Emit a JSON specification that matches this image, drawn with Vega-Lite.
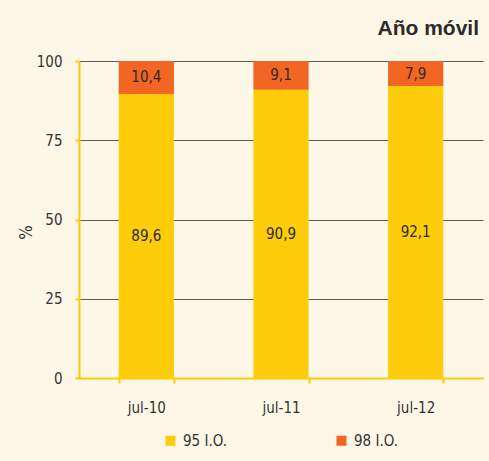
{
  "$schema": "https://vega.github.io/schema/vega-lite/v6.json",
  "width": 404,
  "height": 317,
  "autosize": {"type": "none"},
  "padding": {"left": 79, "top": 61, "right": 6, "bottom": 83},
  "background": "#FDF7E7",
  "title": {
    "text": "Año móvil",
    "anchor": "end",
    "font": "Liberation Sans",
    "fontWeight": "bold",
    "fontSize": 21,
    "color": "#2b2b2b",
    "offset": 15,
    "dx": -4
  },
  "data": {
    "values": [
      {"fecha": "jul-10", "tipo": "95 I.O.", "valor": 89.6},
      {"fecha": "jul-10", "tipo": "98 I.O.", "valor": 10.4},
      {"fecha": "jul-11", "tipo": "95 I.O.", "valor": 90.9},
      {"fecha": "jul-11", "tipo": "98 I.O.", "valor": 9.1},
      {"fecha": "jul-12", "tipo": "95 I.O.", "valor": 92.1},
      {"fecha": "jul-12", "tipo": "98 I.O.", "valor": 7.9}
    ]
  },
  "encoding": {
    "x": {
      "field": "fecha",
      "type": "nominal",
      "sort": ["jul-10", "jul-11", "jul-12"],
      "scale": {"paddingInner": 0.59, "paddingOuter": 0.295},
      "axis": {
        "title": null,
        "labelAngle": 0,
        "tickBand": "extent",
        "domainColor": "#FFCC00",
        "domainWidth": 2,
        "tickColor": "#FFCC00",
        "tickWidth": 2,
        "tickSize": 5,
        "labelPadding": 17,
        "labelFont": "DejaVu Sans Condensed, Liberation Sans, sans-serif",
        "labelFontSize": 15,
        "labelColor": "#333333",
        "grid": false
      }
    }
  },
  "layer": [
    {
      "mark": {"type": "bar"},
      "encoding": {
        "y": {
          "field": "valor",
          "type": "quantitative",
          "stack": "zero",
          "scale": {"domain": [0, 100], "nice": false},
          "axis": {
            "title": "%",
            "titleFont": "DejaVu Sans Condensed, Liberation Sans, sans-serif",
            "titleFontSize": 17,
            "titleFontWeight": "normal",
            "titleColor": "#333333",
            "titleX": -44,
            "titleY": 171,
            "values": [0, 25, 50, 75, 100],
            "domainColor": "#FFCC00",
            "domainWidth": 2,
            "tickColor": "#FFCC00",
            "tickWidth": 2,
            "tickSize": 4,
            "labelPadding": 13,
            "labelFont": "DejaVu Sans Condensed, Liberation Sans, sans-serif",
            "labelFontSize": 15,
            "labelColor": "#333333",
            "grid": true,
            "gridColor": "#5a5a5a",
            "gridWidth": 1
          }
        },
        "order": {"field": "tipo", "sort": "ascending"},
        "color": {
          "field": "tipo",
          "type": "nominal",
          "sort": ["95 I.O.", "98 I.O."],
          "scale": {"domain": ["95 I.O.", "98 I.O."], "range": ["#FDCC0A", "#F26522"]},
          "legend": {
            "title": null,
            "orient": "none",
            "direction": "horizontal",
            "legendX": 84,
            "legendY": 372,
            "symbolType": "square",
            "symbolSize": 100,
            "symbolStrokeWidth": 0,
            "labelFont": "DejaVu Sans Condensed, Liberation Sans, sans-serif",
            "labelFontSize": 15,
            "labelColor": "#333333",
            "labelOffset": 5,
            "columnPadding": 106,
            "padding": 0
          }
        }
      }
    },
    {
      "mark": {"type": "text", "font": "DejaVu Sans Condensed, Liberation Sans, sans-serif", "fontSize": 15, "color": "#2b2b2b", "baseline": "middle"},
      "encoding": {
        "y": {"field": "valor", "type": "quantitative", "stack": "zero", "bandPosition": 0.5},
        "order": {"field": "tipo", "sort": "ascending"},
        "detail": {"field": "tipo", "type": "nominal"},
        "text": {"field": "valor", "type": "quantitative", "format": ".1f"}
      }
    }
  ],
  "config": {
    "view": {"stroke": null},
    "locale": {"number": {"decimal": ",", "thousands": ".", "grouping": [3], "currency": ["", " €"]}}
  }
}
